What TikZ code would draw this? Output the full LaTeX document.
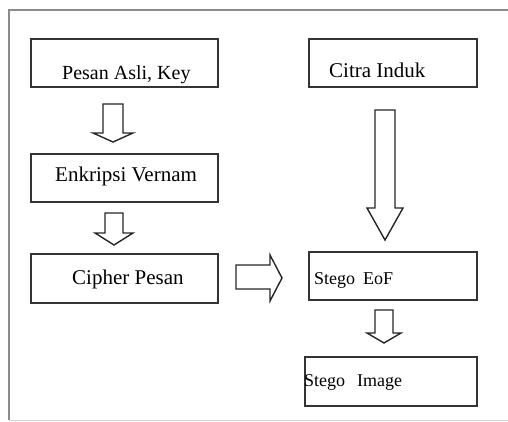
\documentclass[tikz,border=0pt]{standalone}
\usepackage{fontspec}
\setmainfont{Liberation Serif}
% block arrow pointing down: centre x, top, wing y, tip y, half shaft, half head
\newcommand{\blockdown}[6]{%
  \draw[blockarrow] ({#1-#5},#2) -- ({#1+#5},#2) -- ({#1+#5},#3) -- ({#1+#6},#3)
    -- (#1,#4) -- ({#1-#6},#3) -- ({#1-#5},#3) -- cycle;}
\begin{document}
\begin{tikzpicture}[x=1pt,y=-1pt,
  box/.style={draw=black!80, line width=1.6pt, inner sep=0pt, anchor=north west},
  blockarrow/.style={draw=black!85, line width=1.4pt, line join=miter, fill=white},
  lbl/.style={anchor=base west, inner sep=0pt, text=black}]
\useasboundingbox (0,0) rectangle (508,422);
\fill[white] (0,0) rectangle (508,422);
% outer frame
\draw[gray!90, line width=1.2pt] (508,10) -- (9,10) -- (9,420);
\draw[gray!35, line width=1pt] (9,420) -- (508,420);
% process boxes
\node[box, minimum width=187pt, minimum height=48pt] (asli) at (30,38) {};
\node[box, minimum width=187pt, minimum height=48pt] (vernam) at (30,153) {};
\node[box, minimum width=187pt, minimum height=49pt] (cipher) at (30,253) {};
\node[box, minimum width=168pt, minimum height=48pt] (citra) at (308,38) {};
\node[box, minimum width=168pt, minimum height=48pt] (eof) at (308,251) {};
\node[box, minimum width=172pt, minimum height=49pt] (image) at (304,356) {};
% labels
\node[lbl, font=\fontsize{20}{24}\selectfont] (tasli) at (62,80) {Pesan Asli, Key};
\node[lbl, font=\fontsize{21}{25}\selectfont] (tvernam) at (55,182) {Enkripsi Vernam};
\node[lbl, font=\fontsize{21}{25}\selectfont] (tcipher) at (72,284) {Cipher Pesan};
\node[lbl, font=\fontsize{21}{25}\selectfont] (tcitra) at (329,78) {Citra Induk};
\node[lbl, font=\fontsize{18}{22}\selectfont] (teof) at (314,284) {Stego\hspace{8pt}EoF};
\node[lbl, font=\fontsize{18}{22}\selectfont] (timage) at (304,386) {Stego\hspace{12pt}Image};
% block arrows
\blockdown{113}{104}{133}{142}{10}{20}
\blockdown{114}{213}{233}{245}{9}{19}
\blockdown{385}{110}{208}{240}{10}{18}
\blockdown{384}{310}{333}{343}{9}{17}
\draw[blockarrow] (236,265) -- (270,265) -- (270,255) -- (282,278) -- (270,301)
  -- (270,289) -- (236,289) -- cycle;
\end{tikzpicture}
\end{document}
